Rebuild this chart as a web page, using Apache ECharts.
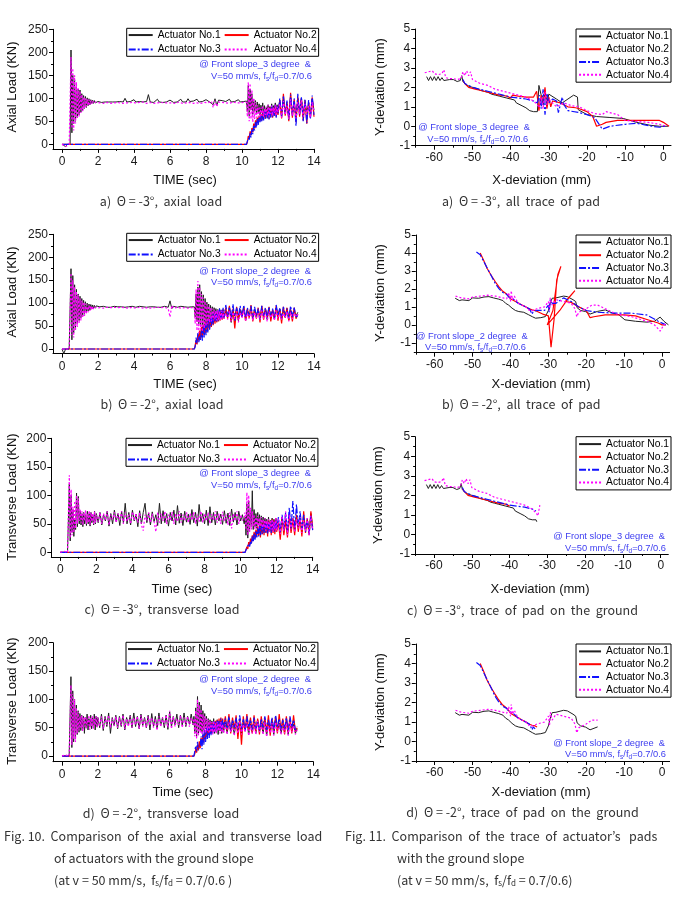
<!DOCTYPE html>
<html><head><meta charset="utf-8">
<script src="https://cdn.jsdelivr.net/npm/echarts@6/dist/echarts.min.js"></script>
<style>html,body{margin:0;padding:0;background:#fff}#c{width:678px;height:900px}</style>
</head><body><div id="c"></div><script>
// ---------- sample times ----------
const tM3 = [0,0.1,0.2,0.3,0.4,
 0.45,0.5,0.55,0.6,0.65,0.7,0.75,0.8,0.85,0.9,0.95,1,1.05,1.1,1.15,1.2,1.25,1.3,1.35,1.4,1.45,1.5,1.55,1.6,1.65,1.7,1.75,1.8,1.85,1.9,1.95,2,
 2.1,2.2,2.3,2.4,2.5,2.6,2.7,2.8,2.9,3,
 3.1,3.2,3.3,3.4,3.5,3.6,3.7,3.8,3.9,4,
 4.1,4.2,4.3,4.4,4.5,4.6,4.7,4.8,4.9,5,
 5.1,5.2,5.3,5.4,5.5,5.6,5.7,5.8,5.9,6,
 6.1,6.2,6.3,6.4,6.5,6.6,6.7,6.8,6.9,7,
 7.1,7.2,7.3,7.4,7.5,7.6,7.7,7.8,7.9,8,
 8.1,8.2,8.3,8.4,8.5,8.6,8.7,8.8,8.9,9,
 9.1,9.2,9.3,9.4,9.5,9.6,9.7,9.8,9.9,10,
 10.1,10.2,
 10.25,10.3,10.35,10.4,10.45,10.5,10.55,10.6,10.65,10.7,10.75,10.8,10.85,10.9,10.95,11,11.05,11.1,11.15,11.2,
 11.25,11.3,11.35,11.4,11.45,11.5,11.55,11.6,11.65,11.7,11.75,11.8,11.85,11.9,11.95,12,
 12.1,12.2,12.3,12.4,12.5,12.6,12.7,12.8,12.9,13,13.1,13.2,13.3,13.4,13.5,13.6,13.7,13.8,13.9,14];
const tM3LateIndex = 119;
const tM2 = [0,0.1,0.2,0.3,0.4,
 0.45,0.5,0.55,0.6,0.65,0.7,0.75,0.8,0.85,0.9,0.95,1,1.05,1.1,1.15,1.2,1.25,1.3,1.35,1.4,1.45,1.5,1.55,1.6,1.65,1.7,1.75,1.8,1.85,1.9,1.95,2,
 2.1,2.2,2.3,2.4,2.5,2.6,2.7,2.8,2.9,3,
 3.1,3.2,3.3,3.4,3.5,3.6,3.7,3.8,3.9,4,
 4.1,4.2,4.3,4.4,4.5,4.6,4.7,4.8,4.9,5,
 5.1,5.2,5.3,5.4,5.5,5.6,5.7,5.8,5.9,6,
 6.1,6.2,6.3,6.4,6.5,6.6,6.7,6.8,6.9,7,
 7.1,7.2,7.3,
 7.35,7.4,7.45,7.5,7.55,7.6,7.65,7.7,7.75,7.8,7.85,7.9,7.95,8,8.05,8.1,8.15,8.2,8.25,8.3,
 8.35,8.4,8.45,8.5,8.55,8.6,8.65,8.7,8.75,8.8,8.85,8.9,8.95,9,
 9.1,9.2,9.3,9.4,9.5,9.6,9.7,9.8,9.9,10,
 10.1,10.2,10.3,10.4,10.5,10.6,10.7,10.8,10.9,11,
 11.1,11.2,11.3,11.4,11.5,11.6,11.7,11.8,11.9,12,
 12.1,12.2,12.3,12.4,12.5,12.6,12.7,12.8,12.9,13,13.1];
const tM2LateIndex = 90;

// ---------- a) axial load, -3 deg ----------
const a_act1 = [0,0,-5,0,0,
 0,205,25,150,45,140,50,125,58,120,64,118,70,110,74,106,78,104,80,101,84,99,86,97,88,96,89,95,90,94,91,93,
 92,91,93,92,91,92,93,92,91,92,
 92,93,91,92,100,92,91,93,92,97,
 92,91,93,92,92,91,93,108,92,93,
 91,92,98,92,93,91,94,92,93,96,
 92,91,93,92,94,98,92,93,92,99,
 93,92,94,96,98,92,95,93,94,97,
 93,92,96,86,99,85,96,92,95,94,
 93,95,98,92,96,93,94,97,92,95,
 93,92,
 94,70,128,62,120,75,110,65,98,72,95,66,92,70,88,64,85,70,90,68,
 84,62,80,70,86,66,82,72,88,68,84,74,90,70,86,72,
 92,62,98,70,88,60,104,66,90,58,96,72,100,64,92,70,86,62,98,74];
const a_act2 = [0,
 0,5,18,12,28,20,35,26,45,34,52,40,58,46,62,50,66,52,70,55,
 72,56,76,58,78,55,80,60,82,58,76,62,84,60,80,64,
 96,56,110,62,92,50,112,58,98,48,104,60,100,52,96,45,92,58,102,60];
const a_act3 = [0,
 0,3,14,8,24,15,32,22,40,30,48,36,55,42,60,48,64,50,68,52,
 72,55,75,56,78,54,80,58,84,60,78,62,86,58,82,66,
 100,60,106,66,95,54,108,62,100,40,110,64,102,50,98,46,96,55,106,64];
const a_act4 = [0,-3,-5,-2,0,
 0,190,35,165,30,150,45,135,55,122,60,115,68,108,72,103,78,100,82,98,84,97,86,95,88,94,89,93,90,92,90,91,
 90,91,89,90,91,90,89,91,90,90,
 91,90,89,91,90,92,90,89,91,90,
 90,89,91,90,92,90,89,90,91,90,
 89,91,90,90,91,88,90,91,90,89,
 90,91,89,90,92,90,89,91,90,90,
 91,90,89,91,90,92,89,90,91,90,
 90,88,94,80,95,82,92,88,91,90,
 90,91,89,90,92,89,90,91,90,89,
 91,90,
 92,60,135,50,132,55,118,48,100,55,92,58,85,60,82,58,80,62,84,60,
 78,64,82,62,86,60,80,66,84,62,80,68,86,64,82,70,
 88,58,94,64,84,55,98,62,88,56,92,66,96,60,88,64,84,58,92,70];

// ---------- b) axial load, -2 deg ----------
const b_act1 = [0,-10,0,0,0,
 0,175,20,160,35,140,45,130,55,120,62,115,68,110,72,106,76,103,80,100,83,98,85,97,87,96,88,95,89,94,90,93,
 92,91,93,92,91,92,91,92,93,91,
 92,91,92,93,91,92,92,91,93,92,
 91,92,93,91,92,92,91,93,92,91,
 92,93,91,92,91,92,93,92,91,105,
 88,93,92,91,92,93,91,92,92,91,
 93,92,91,
 92,70,120,60,135,55,140,50,125,45,118,52,110,55,102,60,98,62,95,65,
 92,68,90,70,88,66,86,70,88,68,85,72,86,70,
 82,70,90,58,84,72,88,62,86,74,90,64,84,72,88,66,86,74,84,68,
 90,70,86,64,88,72,84,66,90,74,86,68,84,72,88,64,86,70,84,72,80];
const b_act2 = [0,
 0,8,20,10,32,18,40,22,48,28,52,30,58,35,62,40,66,45,70,48,
 74,52,76,55,78,58,80,60,82,62,84,64,86,66,
 90,66,94,60,88,45,92,64,86,70,92,62,88,68,96,60,86,66,90,58,
 94,64,88,70,92,60,86,66,94,62,88,56,92,68,90,62,86,60,90,66,76];
const b_act3 = [0,
 0,5,25,12,35,15,28,20,42,18,50,25,55,30,60,36,65,42,70,50,
 75,54,78,60,82,58,84,62,88,64,86,66,90,68,
 96,70,92,66,98,62,90,72,94,68,96,64,90,72,94,66,92,70,88,64,
 94,72,90,66,92,70,88,64,96,72,90,66,92,70,88,66,94,70,90,68,74];
const b_act4 = [0,-3,0,0,0,
 0,165,30,150,25,135,40,125,48,118,55,110,62,105,68,102,72,99,76,97,80,95,83,94,85,93,87,92,88,91,89,91,
 90,91,89,90,91,90,90,89,91,90,
 90,89,91,90,90,91,89,90,91,90,
 89,90,91,90,89,91,90,90,89,91,
 90,89,91,90,90,89,91,90,88,70,
 95,89,90,91,90,89,91,90,90,89,
 91,90,89,
 90,55,130,40,148,35,135,42,120,38,112,45,104,50,98,55,94,58,90,60,
 88,62,86,64,84,62,85,64,82,62,84,66,82,66,
 78,64,84,60,80,66,82,58,80,68,84,60,78,66,82,62,80,68,78,64,
 84,66,80,60,82,68,78,62,84,66,80,64,78,68,82,60,80,66,78,70,76];

// ---------- c) transverse load, -3 deg ----------
const c_act1 = [0,2,0,3,0,
 0,120,20,100,35,75,28,60,40,104,45,98,50,72,48,68,45,70,50,66,47,72,50,68,46,70,52,66,48,72,50,68,
 52,70,48,66,55,72,46,68,50,74,
 54,68,47,72,52,86,50,70,48,74,
 55,67,45,73,50,70,86,52,69,48,
 71,54,66,47,86,50,73,52,68,46,
 70,55,74,48,82,51,69,47,72,53,
 67,49,75,52,70,46,84,54,68,50,
 74,47,80,52,70,48,72,55,67,49,
 73,51,69,47,76,53,70,48,72,55,
 66,50,
 62,30,85,25,90,40,70,45,108,40,75,45,68,42,70,48,66,44,64,46,
 62,40,60,45,58,42,62,40,56,44,60,38,58,42,60,40,
 55,35,62,40,58,32,66,42,60,38,64,44,56,36,62,40,58,34,68,45];
const c_act2 = [0,
 0,3,10,6,18,12,24,16,30,20,36,25,40,28,45,30,48,26,50,32,
 52,30,55,34,52,28,56,36,54,30,58,34,56,32,60,36,
 52,22,60,30,56,26,64,34,58,30,66,36,60,28,72,34,58,30,72,40];
const c_act3 = [0,
 0,2,8,5,15,10,20,14,28,18,34,22,38,26,42,28,46,30,48,32,
 50,34,52,35,50,33,54,36,52,34,56,38,55,36,58,40,
 62,35,66,40,70,36,78,42,90,38,84,44,72,40,66,36,60,32,64,38];
const c_act4 = [0,0,2,0,0,
 0,135,25,110,30,80,35,90,42,100,50,95,55,75,52,72,48,70,55,74,50,68,52,73,48,70,54,68,50,72,52,66,
 54,70,50,68,56,72,48,66,58,70,
 52,68,56,72,50,70,54,66,50,71,
 56,68,52,70,48,38,66,55,70,52,
 68,54,36,70,52,68,55,72,50,66,
 56,71,50,68,54,72,52,66,55,70,
 52,68,56,71,50,66,54,72,52,68,
 55,70,50,67,56,72,52,68,50,71,
 54,66,48,70,42,68,55,72,50,66,
 56,60,
 70,40,105,30,100,35,78,40,72,45,66,40,62,44,64,42,60,46,62,40,
 58,44,60,38,56,42,58,36,55,40,58,36,54,40,60,38,
 58,32,64,38,72,30,66,40,60,35,58,42,62,34,56,38,60,30,64,40];

// ---------- d) transverse load, -2 deg ----------
const d_act1 = [0,2,0,2,0,
 0,140,15,115,25,100,30,90,38,80,42,75,45,72,48,70,40,68,50,74,46,66,52,72,48,68,50,74,46,70,52,68,
 50,74,45,70,52,76,40,68,54,72,
 48,70,52,74,46,68,55,72,50,76,
 52,70,48,74,54,68,50,72,46,75,
 52,70,48,76,54,68,50,72,47,78,
 52,70,55,74,50,72,54,76,52,70,
 56,74,55,
 70,40,85,35,105,40,95,45,90,42,80,46,75,48,70,42,66,45,64,40,
 62,44,66,40,60,42,64,38,60,44,62,40,60,42,
 58,40,62,44,56,38,60,42,64,40,58,44,62,38,56,42,60,40,64,44,
 58,40,62,36,56,42,60,38,62,44,58,40,56,42,60,38,62,44,56,40,48];
const d_act2 = [0,
 0,4,12,6,20,10,26,14,32,20,38,24,42,30,48,34,52,38,56,40,
 58,42,60,44,62,46,64,48,66,45,68,50,66,48,
 70,45,74,40,68,48,72,30,66,20,70,44,74,46,68,40,72,44,66,38,
 70,46,68,42,72,36,66,44,70,40,74,46,66,38,70,42,68,40,72,44,50];
const d_act3 = [0,
 0,3,18,8,25,12,15,18,35,12,42,20,46,25,50,30,54,32,56,36,
 58,40,62,42,60,44,64,46,62,48,66,46,64,50,
 66,48,70,44,64,50,68,46,72,48,66,44,70,50,64,46,68,48,62,44,
 66,50,70,46,64,48,68,44,72,50,66,46,64,48,68,44,70,50,64,46,52];
const d_act4 = [0,0,2,0,0,
 0,125,20,110,30,100,25,85,40,78,45,70,50,72,44,68,52,70,48,66,54,72,46,68,52,70,48,66,54,70,50,68,
 52,70,48,68,55,72,50,66,53,70,
 50,68,54,72,48,66,52,70,50,68,
 55,70,48,72,52,66,50,70,54,68,
 50,66,45,70,52,68,54,72,50,80,
 48,70,52,66,55,72,50,68,54,70,
 52,68,56,
 66,35,80,30,100,35,90,40,82,38,74,42,70,40,66,44,64,40,62,42,
 60,38,62,42,58,40,60,44,58,40,60,42,56,40,
 56,38,60,42,54,36,58,40,62,38,56,42,60,36,54,40,58,38,62,42,
 56,38,60,34,54,40,58,36,60,42,56,38,54,40,58,36,60,42,54,38,46];

// ---------- pad traces, -3 deg (all) ----------
const aR1x = [-62,-61.5,-61,-60.5,-60,-59.5,-59,-58.5,-58,-57.5,-57,-56,-55,-54,-53.2,-52.8,-52.5,-52,-51.5,-51,-50,-49,-48,-47,-46,-45,-44,-43,-42,-41,-40,-39,-38.5,-38,-37,-36,-35,-34,-33,-32.8,-32.6,-32,-31.5,-31,-30.5,-30,-28,-26.5,-23.5,-22.5,-22.3,-20,-17.5,-14,-10.5,-7,-3.5,-1,1.3];
const aR1y = [2.55,2.35,2.55,2.35,2.55,2.35,2.55,2.35,2.5,2.35,2.45,2.4,2.4,2.3,2.35,2.6,2.3,2.4,2.1,2.2,2.0,1.95,1.85,1.8,1.75,1.65,1.6,1.55,1.5,1.45,1.4,1.35,1.2,1.25,1.05,0.95,0.8,0.75,0.75,0.65,2.1,1.6,1.1,1.8,1.2,1.65,1.4,1.2,1.6,1.5,0.85,0.6,0.5,0.45,0.4,0.2,0.05,0,0];
const aR2x = [-52.5,-52,-51.5,-51,-50,-49,-48,-47,-46,-45,-44,-43,-42,-41,-40.5,-40,-39.5,-39,-38,-36,-34,-33.5,-33.2,-33,-32.6,-32,-31.5,-31,-30.5,-30,-29.5,-29,-27,-25,-23,-22,-20,-18.5,-17.5,-16,-15,-12,-8,-4,-1,0,1.5];
const aR2y = [2.35,2.2,2.3,2.0,1.95,1.9,1.85,1.8,1.75,1.7,1.65,1.6,1.58,1.55,1.65,1.45,1.6,1.55,1.55,1.5,1.5,1.45,1.8,1.5,0.8,1.6,1.2,2.0,0.9,1.5,1.0,1.3,1.2,1.0,0.95,0.9,0.75,0.5,0.0,0.1,0.2,0.3,0.3,0.3,0.3,0.2,0.0];
const aR3x = [-52.5,-52,-51,-50,-49,-48,-46,-44,-42,-40,-38,-36,-34,-33,-32.5,-32,-31.5,-31,-30.5,-30,-29,-28,-27.5,-26.5,-26,-25,-22,-20,-18,-16,-14,-10,-7,-3,-1,1];
const aR3y = [2.4,2.2,2.1,2.0,1.95,1.9,1.8,1.7,1.6,1.5,1.45,1.4,1.3,1.2,1.6,0.9,1.9,0.6,1.7,1.2,1.4,1.3,0.7,1.5,1.1,0.8,0.7,0.6,0.45,-0.15,0.0,0.1,0.15,0.0,-0.05,0.05];
const aR4x = [-62.5,-62,-61.5,-61,-60.5,-60,-59.5,-59,-58.5,-58,-57.5,-57,-56,-55,-54,-53,-52.5,-52,-51.5,-51,-50.5,-50,-49,-48,-47,-46,-45,-44,-43,-42,-41,-40,-39,-38,-37,-36,-35,-34,-33,-32.5,-32,-31.5,-31,-30.5,-30,-28,-26,-24,-22,-20,-18,-16,-15,-12,-10,-7,-4,-1,1];
const aR4y = [2.75,2.7,2.8,2.7,2.85,2.7,2.8,2.65,2.75,2.7,2.9,2.5,2.45,2.45,2.4,2.45,2.8,2.6,2.85,2.6,2.8,2.4,2.3,2.2,2.15,2.1,2.0,1.9,1.85,1.8,1.75,1.7,1.65,1.6,1.55,1.5,1.4,1.3,1.1,0.95,1.5,0.9,1.8,1.1,1.4,1.0,1.2,1.05,1.0,0.8,0.65,0.6,0.75,0.6,0.3,0.25,0.2,0.1,0.0];
// number of points of each -3 deg trace recorded while the pad is on the ground
const cGroundCount = [40,16,14,41];

// ---------- pad traces, -2 deg (all) ----------
const bR1x = [-54.6,-53.5,-52.8,-51,-50,-48.4,-47,-45.7,-44.5,-43.1,-42,-41.3,-40.5,-39.6,-38.7,-37.8,-36.5,-35.2,-34.2,-33.4,-32,-30.8,-30,-29.5,-29,-28,-26,-25,-23.5,-22.8,-22.4,-21.5,-20.2,-19,-17,-15,-13,-11.4,-9.8,-7,-4,-2,-0.5,0.5,1.7];
const bR1y = [1.48,1.35,1.39,1.35,1.5,1.48,1.55,1.57,1.5,1.43,1.35,1.2,1.1,0.93,0.8,0.74,0.7,0.56,0.45,0.37,0.4,0.46,0.8,1.2,1.48,1.5,1.6,1.57,1.4,1.3,0.95,0.8,0.74,0.6,0.75,0.83,0.65,0.56,0.28,0.2,0.15,0.2,0.43,0.2,0.0];
const bR2x = [-48,-47.5,-47.1,-46.6,-46.2,-45.5,-44.9,-44,-43.1,-42.2,-41.3,-40.5,-40,-39.6,-38.7,-37.8,-37,-36.1,-35.2,-34.3,-33.5,-33,-31.5,-30,-29.3,-28.5,-27.8,-26.7,-27.5,-28.8,-30.3,-27,-25,-23,-25.5,-24,-22,-20,-19,-18,-15,-10,-7,-4,-1,0,1];
const bR2y = [4.0,3.9,3.6,3.5,3.15,2.9,2.69,2.4,2.13,1.9,1.76,1.6,1.45,1.39,1.3,1.2,1.1,1.02,0.9,0.83,0.8,0.74,0.6,0.5,-1.25,0.3,2.5,3.25,2.8,0.8,0.0,0.8,1.4,1.9,1.3,1.25,1.0,0.8,0.4,0.45,0.55,0.55,0.5,0.3,0.1,0.0,0.0];
const bR3x = [-49,-48.5,-48,-47.5,-47,-46.5,-46,-45,-44,-43,-42,-41,-40.5,-40,-39,-38,-37,-36,-35,-34.3,-34,-33.5,-33,-31,-30,-29.8,-29.5,-29,-28,-26,-24,-22,-20,-17,-12,-8,-4,-1,1];
const bR3y = [4.05,3.95,3.9,3.7,3.6,3.3,3.1,2.7,2.3,2.0,1.8,1.7,1.55,1.5,1.4,1.2,1.1,1.0,0.9,0.6,0.75,0.65,0.8,0.8,1.1,0.7,1.4,1.2,1.2,1.5,1.3,1.0,0.8,0.7,0.65,0.65,0.55,0.2,0.0];
const bR4x = [-54.5,-53,-51,-50,-48,-46,-44,-42,-41,-40.5,-40,-39.8,-39.5,-39,-38,-37,-36,-35,-34,-33,-31,-30,-29.7,-29.5,-29,-28,-26,-24,-23,-22.5,-22,-20,-18.5,-17,-15,-12,-8,-4,-2,-0.5,0.5,1];
const bR4y = [1.6,1.5,1.45,1.55,1.6,1.65,1.6,1.5,1.45,1.8,1.3,1.9,1.4,1.6,1.2,1.1,1.0,0.8,0.8,0.9,1.0,1.3,0.8,1.5,1.1,1.4,1.3,1.2,0.9,0.45,0.7,0.9,1.1,1.1,0.9,0.6,0.45,0.2,0.0,-0.35,0.0,0.05];
const dGroundCount = [35,22,22,34];

// ---------- axis ticks ----------
const timeTicks = [0,2,4,6,8,10,12,14];
const timeMinor = [1,3,5,7,9,11,13];
const axialTicks = [0,50,100,150,200,250];
const axialMinor = [25,75,125,175,225];
const transTicks = [0,50,100,150,200];
const transMinor = [25,75,125,175];
const xdevTicks = [-60,-50,-40,-30,-20,-10,0];
const xdevMinor = [-65,-55,-45,-35,-25,-15,-5];
const ydevTicks = [-1,0,1,2,3,4,5];
const ydevMinor = [-1.5,-0.5,0.5,1.5,2.5,3.5,4.5];

const NAMES = ['Actuator No.1','Actuator No.2','Actuator No.3','Actuator No.4'];
const COLORS = ['#202020','#ff0000','#1010ff','#ff00ff'];
const DASH = ['solid','solid',[7,2,2,2],[2,2]];
const WIDTH = [1,1.2,1.2,1.2];

const FONT = '"Liberation Sans", Arial, sans-serif';
const KFONT = '"Noto Sans CJK KR", "Noto Sans", sans-serif';
const BLUE = '#3c3cf0';

// ---------- layout ----------
const GRIDS = [
 {left:53, top:29.3, width:261, height:119.6, xmin:-0.5, xmax:14, ymin:-10, ymax:250, xt:timeTicks, xm:timeMinor, yt:axialTicks, ym:axialMinor, xMargin:7, yMargin:5},
 {left:415.2, top:29, width:255.8, height:116.7, xmin:-65, xmax:2, ymin:-1, ymax:5, xt:xdevTicks, xm:xdevMinor, yt:ydevTicks, ym:ydevMinor, xMargin:6, yMargin:5},
 {left:53, top:234.3, width:261, height:119.3, xmin:-0.5, xmax:14, ymin:-10, ymax:250, xt:timeTicks, xm:timeMinor, yt:axialTicks, ym:axialMinor, xMargin:7, yMargin:5},
 {left:415.8, top:235, width:253.8, height:117.7, xmin:-65, xmax:2, ymin:-1.55, ymax:5, xt:xdevTicks, xm:xdevMinor, yt:ydevTicks, ym:ydevMinor, xMargin:6, yMargin:5},
 {left:51.3, top:438.3, width:261.4, height:118.6, xmin:-0.5, xmax:14, ymin:-8, ymax:200, xt:timeTicks, xm:timeMinor, yt:transTicks, ym:transMinor, xMargin:7, yMargin:5},
 {left:415.1, top:436.7, width:253.2, height:117.3, xmin:-65, xmax:2, ymin:-1, ymax:5, xt:xdevTicks, xm:xdevMinor, yt:ydevTicks, ym:ydevMinor, xMargin:6, yMargin:5},
 {left:53, top:642.7, width:260.3, height:119, xmin:-0.5, xmax:14, ymin:-10, ymax:200, xt:timeTicks, xm:timeMinor, yt:transTicks, ym:transMinor, xMargin:7, yMargin:5},
 {left:415.8, top:644, width:253.8, height:117, xmin:-65, xmax:2, ymin:-1, ymax:5, xt:xdevTicks, xm:xdevMinor, yt:ydevTicks, ym:ydevMinor, xMargin:6, yMargin:5}
];

const grid = [], xAxis = [], yAxis = [], series = [], legend = [], graphic = [];

function mkAxes(arr, dim, gi, min, max, ticks, minors, margin) {
  const pos = dim === 'x' ? 'bottom' : 'left';
  const within = minors.filter(v => v >= min && v <= max);
  arr.push({type:'value', gridIndex:gi, min, max, position:pos, offset:0,
    splitLine:{show:false},
    axisLine:{show:true, onZero:false, lineStyle:{color:'#000', width:1}},
    axisTick:{show:true, inside:false, length:4, customValues:ticks, lineStyle:{color:'#000', width:1}},
    axisLabel:{show:true, customValues:ticks, margin, color:'#1a1a1a', fontSize:12, fontFamily:FONT}
  });
  arr.push({type:'value', gridIndex:gi, min, max, position:pos, offset:0,
    splitLine:{show:false},
    axisLine:{show:false, onZero:false},
    axisTick:{show:true, inside:false, length:2, customValues:within, lineStyle:{color:'#000', width:1}},
    axisLabel:{show:false}
  });
}

GRIDS.forEach((g, gi) => {
  grid.push({left:g.left, top:g.top, width:g.width, height:g.height, containLabel:false});
  mkAxes(xAxis, 'x', gi, g.xmin, g.xmax, g.xt, g.xm, g.xMargin);
  mkAxes(yAxis, 'y', gi, g.ymin, g.ymax, g.yt, g.ym, g.yMargin);
});

function lineSeries(gi, k, data) {
  return {type:'line', name:NAMES[k], xAxisIndex:2*gi, yAxisIndex:2*gi, data,
    symbol:'none', showSymbol:false, clip:true, silent:true, animation:false,
    lineStyle:{color:COLORS[k], width:WIDTH[k], type:DASH[k]}, itemStyle:{color:COLORS[k]}, z:2+k};
}
function fullPairs(t, v) { const n = Math.min(t.length, v.length); const out = []; for (let i = 0; i < n; i++) out.push([t[i], v[i]]); return out; }
// late-starting actuators: first value at t[0], remaining values from t[lateIdx] on
function latePairs(t, v, lateIdx) { const out = [[t[0], v[0]]]; for (let i = 1; i < v.length && lateIdx + i - 1 < t.length; i++) out.push([t[lateIdx + i - 1], v[i]]); return out; }
function tracePairs(xs, ys, n) { const m = Math.min(xs.length, ys.length, n == null ? Infinity : n); const out = []; for (let i = 0; i < m; i++) out.push([xs[i], ys[i]]); return out; }

const timeSets = [
  {gi:0, t:tM3, late:tM3LateIndex, s:[a_act1,a_act2,a_act3,a_act4]},
  {gi:2, t:tM2, late:tM2LateIndex, s:[b_act1,b_act2,b_act3,b_act4]},
  {gi:4, t:tM3, late:tM3LateIndex, s:[c_act1,c_act2,c_act3,c_act4]},
  {gi:6, t:tM2, late:tM2LateIndex, s:[d_act1,d_act2,d_act3,d_act4]}
];
timeSets.forEach(ts => {
  ts.s.forEach((v, k) => {
    const data = (k === 1 || k === 2) ? latePairs(ts.t, v, ts.late) : fullPairs(ts.t, v);
    series.push(lineSeries(ts.gi, k, data));
  });
});
const traceSets = [
  {gi:1, xs:[aR1x,aR2x,aR3x,aR4x], ys:[aR1y,aR2y,aR3y,aR4y], n:null},
  {gi:3, xs:[bR1x,bR2x,bR3x,bR4x], ys:[bR1y,bR2y,bR3y,bR4y], n:null},
  {gi:5, xs:[aR1x,aR2x,aR3x,aR4x], ys:[aR1y,aR2y,aR3y,aR4y], n:cGroundCount},
  {gi:7, xs:[bR1x,bR2x,bR3x,bR4x], ys:[bR1y,bR2y,bR3y,bR4y], n:dGroundCount}
];
traceSets.forEach(ts => {
  for (let k = 0; k < 4; k++) series.push(lineSeries(ts.gi, k, tracePairs(ts.xs[k], ts.ys[k], ts.n ? ts.n[k] : null)));
});

// ---------- legends ----------
const leftLegendTops = [28.3, 233.3, 438.3, 642.3];
const leftLegendLefts = [126.7, 126.7, 126, 126];
leftLegendTops.forEach((top, i) => legend.push({
  data:NAMES, left:leftLegendLefts[i], top, orient:'horizontal', width:200,
  itemWidth:24, itemHeight:10, itemGap:3, padding:[1,2,1,1],
  itemStyle:{opacity:0, borderWidth:0},
  textStyle:{fontSize:10.3, lineHeight:11.5, fontFamily:FONT, color:'#000'},
  borderColor:'#000', borderWidth:1, backgroundColor:'#fff', selectedMode:false
}));
const rightLegendTops = [29, 235, 436.7, 644];
rightLegendTops.forEach(top => legend.push({
  data:NAMES, right:7, top, orient:'vertical',
  itemWidth:22, itemHeight:10, itemGap:2, padding:[2,2,2,2],
  itemStyle:{opacity:0, borderWidth:0},
  textStyle:{fontSize:10.3, lineHeight:10.8, fontFamily:FONT, color:'#000'},
  borderColor:'#000', borderWidth:1, backgroundColor:'#fff', selectedMode:false
}));

// ---------- texts ----------
function txt(text, x, y, font, fill, align, vAlign, rot, rich) {
  const el = {type:'text', x, y, silent:true, z:100,
    style:{text, font, fill, textAlign:align, textVerticalAlign:vAlign, align:align, verticalAlign:vAlign}};
  if (rich) el.style.rich = rich;
  if (rot) el.rotation = rot;
  graphic.push(el);
}
const subRich = {s:{fontSize:6.5, fontFamily:FONT, fill:BLUE, padding:[6,0,0,0]}};
const AF = '13px ' + FONT;
// y titles
txt('Axial Load (KN)', 12, 87, AF, '#111', 'center', 'middle', Math.PI/2);
txt('Axial Load (KN)', 12, 292, AF, '#111', 'center', 'middle', Math.PI/2);
txt('Transverse Load (KN)', 12, 497, AF, '#111', 'center', 'middle', Math.PI/2);
txt('Transverse Load (KN)', 12, 701, AF, '#111', 'center', 'middle', Math.PI/2);
txt('Y-deviation (mm)', 380, 87, AF, '#111', 'center', 'middle', Math.PI/2);
txt('Y-deviation (mm)', 380, 293, AF, '#111', 'center', 'middle', Math.PI/2);
txt('Y-deviation (mm)', 378, 495, AF, '#111', 'center', 'middle', Math.PI/2);
txt('Y-deviation (mm)', 380, 702, AF, '#111', 'center', 'middle', Math.PI/2);
// x titles
txt('TIME (sec)', 185, 180, AF, '#111', 'center', 'middle');
txt('TIME (sec)', 185, 384.5, AF, '#111', 'center', 'middle');
txt('Time (sec)', 182, 589, AF, '#111', 'center', 'middle');
txt('Time (sec)', 183, 792.7, AF, '#111', 'center', 'middle');
txt('X-deviation (mm)', 541.7, 180, AF, '#111', 'center', 'middle');
txt('X-deviation (mm)', 541, 384, AF, '#111', 'center', 'middle');
txt('X-deviation (mm)', 540, 589, AF, '#111', 'center', 'middle');
txt('X-deviation (mm)', 541, 792, AF, '#111', 'center', 'middle');
// subtitles
const SF = '12.5px ' + KFONT;
txt('a)  \u0398 = -3°,  axial  load', 161, 201, SF, '#333', 'center', 'middle');
txt('b)  \u0398 = -2°,  axial  load', 162, 404.5, SF, '#333', 'center', 'middle');
txt('c)  \u0398 = -3°,  transverse  load', 162, 609.5, SF, '#333', 'center', 'middle');
txt('d)  \u0398 = -2°,  transverse  load', 161, 813.3, SF, '#333', 'center', 'middle');
txt('a)  \u0398 = -3°,  all  trace  of  pad', 521, 201, SF, '#333', 'center', 'middle');
txt('b)  \u0398 = -2°,  all  trace  of  pad', 521.3, 404.5, SF, '#333', 'center', 'middle');
txt('c)  \u0398 = -3°,  trace  of  pad  on  the  ground', 522.5, 610, SF, '#333', 'center', 'middle');
txt('d)  \u0398 = -2°,  trace  of  pad  on  the  ground', 522.5, 812.7, SF, '#333', 'center', 'middle');
// annotations
const NF = '9.3px ' + FONT;
const noteA = [
  ['@ Front slope_3 degree  &', 311, 64, 'right'], ['V=50 mm/s, f{s|s}/f{s|d}=0.7/0.6', 312, 76.5, 'right'],
  ['@ Front slope_2 degree  &', 311, 271, 'right'], ['V=50 mm/s, f{s|s}/f{s|d}=0.7/0.6', 312, 282.5, 'right'],
  ['@ Front slope_3 degree  &', 311, 473.5, 'right'], ['V=50 mm/s, f{s|s}/f{s|d}=0.7/0.6', 312, 485.5, 'right'],
  ['@ Front slope_2 degree  &', 311, 679.5, 'right'], ['V=50 mm/s, f{s|s}/f{s|d}=0.7/0.6', 312, 691.5, 'right'],
  ['@ Front slope_3 degree  &', 418.3, 127.7, 'left'], ['V=50 mm/s, f{s|s}/f{s|d}=0.7/0.6', 427.3, 139.5, 'left'],
  ['@ Front slope_2 degree  &', 416, 336, 'left'], ['V=50 mm/s, f{s|s}/f{s|d}=0.7/0.6', 425, 347.5, 'left'],
  ['@ Front slope_3 degree  &', 665, 536.7, 'right'], ['V=50 mm/s, f{s|s}/f{s|d}=0.7/0.6', 666, 548, 'right'],
  ['@ Front slope_2 degree  &', 665, 743.3, 'right'], ['V=50 mm/s, f{s|s}/f{s|d}=0.7/0.6', 666, 754.5, 'right']
];
noteA.forEach(n => txt(n[0], n[1], n[2], NF, BLUE, n[3], 'middle', 0, subRich));
// figure captions
const CF = '12.5px ' + KFONT;
const capRich = {s:{fontSize:8, fontFamily:KFONT, fill:'#333', padding:[6,0,0,0]}};
txt('Fig. 10.  Comparison  of  the  axial  and  transverse  load', 4, 836, CF, '#333', 'left', 'middle');
txt('of actuators with the ground slope', 54, 858, CF, '#333', 'left', 'middle');
txt('(at v = 50 mm/s,  f{s|s}/f{s|d} = 0.7/0.6 )', 54, 880, CF, '#333', 'left', 'middle', 0, capRich);
txt('Fig. 11.  Comparison  of  the  trace  of  actuator\u2019s   pads', 345, 836, CF, '#333', 'left', 'middle');
txt('with the ground slope', 397, 858, CF, '#333', 'left', 'middle');
txt('(at v = 50 mm/s,  f{s|s}/f{s|d} = 0.7/0.6)', 397, 880, CF, '#333', 'left', 'middle', 0, capRich);

const chart = echarts.init(document.getElementById('c'), null, {renderer:'canvas', width:678, height:900});
chart.setOption({animation:false, backgroundColor:'#fff', grid, xAxis, yAxis, series, legend, graphic});
</script></body></html>
